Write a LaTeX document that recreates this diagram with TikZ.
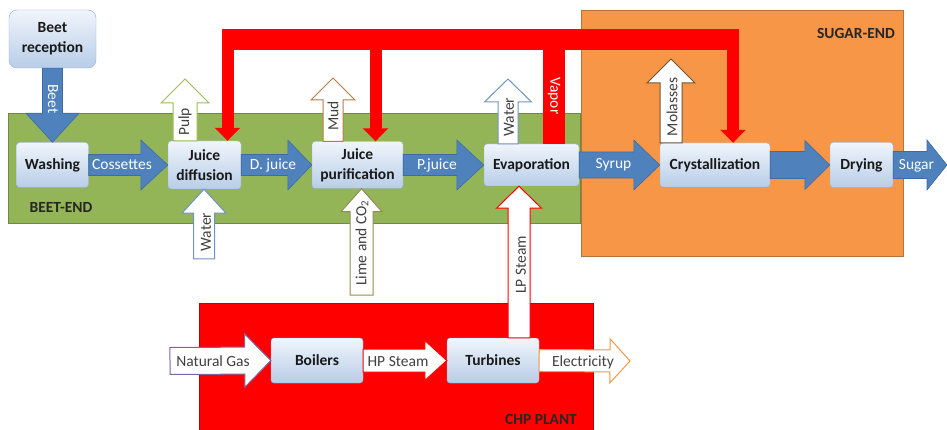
\documentclass[tikz,border=0pt]{standalone}
\usepackage{fontspec}
\setmainfont{Carlito}
\usetikzlibrary{calc,arrows.meta}

\definecolor{beetgreen}{HTML}{93B558}
\definecolor{beetedge}{HTML}{6F8C3E}
\definecolor{sugarorange}{HTML}{F79646}
\definecolor{sugaredge}{HTML}{B9713A}
\definecolor{chpred}{HTML}{FF0000}
\definecolor{chpedge}{HTML}{C00000}
\definecolor{flowblue}{HTML}{4F81BD}
\definecolor{flowedge}{HTML}{3D6CA3}
\definecolor{boxtop}{HTML}{F0F5FB}
\definecolor{boxbot}{HTML}{B8CDE8}
\definecolor{boxedge}{HTML}{8FAFD9}
\definecolor{pulpedge}{HTML}{9BBB59}
\definecolor{wateredge}{HTML}{6F93C6}
\definecolor{mudedge}{HTML}{B97A4A}
\definecolor{limeedge}{HTML}{948A54}
\definecolor{moledge}{HTML}{6B5535}
\definecolor{gasedge}{HTML}{8064A2}

\newcommand{\fatarrow}[6]{%
  \coordinate (fa-s) at (#2);
  \coordinate (fa-t) at (#3);
  \coordinate (fa-h) at ($(fa-t)!#6!(fa-s)$);
  \filldraw[#1] ($(fa-s)!#4!90:(fa-t)$) -- ($(fa-h)!#4!90:(fa-t)$)
    -- ($(fa-h)!#5!90:(fa-t)$) -- (fa-t) -- ($(fa-h)!#5!-90:(fa-t)$)
    -- ($(fa-h)!#4!-90:(fa-t)$) -- ($(fa-s)!#4!-90:(fa-t)$) -- cycle;
}

\begin{document}
\begin{tikzpicture}[x=1pt,y=-1pt,
  font=\fontsize{15.5}{20}\selectfont,
  unit/.style={draw=boxedge,top color=boxtop,bottom color=boxbot,rounded corners=3pt,
    font=\fontsize{15.5}{20}\selectfont\bfseries,text=black!90,align=center,inner sep=0pt},
  flow/.style={fill=flowblue,draw=flowedge,line width=0.6pt},
  feed/.style={fill=white,draw=#1,line width=1pt},
  flowlab/.style={text=white,inner sep=0pt},
  feedlab/.style={text=black!75,inner sep=0pt},
  vapor/.style={draw=chpred,line width=12pt,-{Triangle[width=25pt,length=13pt]}},
  area/.style={font=\fontsize{15.5}{20}\selectfont\bfseries,text=black!85,inner sep=0pt}]
  \useasboundingbox (0,0) rectangle (947,430);
  \draw[draw=beetedge,fill=beetgreen] (8,113) rectangle (580,223);
  \draw[draw=sugaredge,fill=sugarorange] (581,10) rectangle (903,256);
  \draw[draw=chpedge,fill=chpred] (199,303) rectangle (593,432);
  \node[area] (beetend) at (61,207) {BEET-END};
  \node[area] (sugarend) at (856,33) {SUGAR-END};
  \node[area] (chpplant) at (541,419) {CHP PLANT};

  \node[unit,minimum width=87pt,minimum height=58pt,rounded corners=8pt] (beet) at (52.5,39) {Beet\\reception};
  \node[unit,minimum width=72pt,minimum height=45pt] (wash) at (52.5,165) {Washing};
  \node[unit,minimum width=73pt,minimum height=48pt] (diff) at (204.5,165) {Juice\\diffusion};
  \node[unit,minimum width=91pt,minimum height=47pt] (pur) at (357.5,165) {Juice\\purification};
  \node[unit,minimum width=95pt,minimum height=42pt] (evap) at (531.5,165) {Evaporation};
  \node[unit,minimum width=110pt,minimum height=44pt] (cryst) at (715,165) {Crystallization};
  \node[unit,minimum width=63pt,minimum height=45pt] (dry) at (861.5,165) {Drying};
  \node[unit,minimum width=92pt,minimum height=45pt] (boil) at (317,360.5) {Boilers};
  \node[unit,minimum width=92pt,minimum height=45pt] (turb) at (493,360.5) {Turbines};

  \coordinate (r1) at (227.5,40);
  \coordinate (r2) at (375.5,40);
  \coordinate (r3) at (733,40);
  \coordinate (vap) at (554,40);
  \draw[vapor] (r1) -- (r1 |- diff.north);
  \draw[vapor] (r2) -- (r2 |- pur.north);
  \draw[vapor] (r3) -- (r3 |- cryst.north);
  \draw[draw=chpred,line width=22pt] (vap |- evap.north) -- (vap);
  \fill[chpred] (221.5,29) rectangle (739,50);

  \coordinate (sugar) at (947,165);
  \coordinate (pulp) at (185,79);
  \coordinate (wat1) at (204,259);
  \coordinate (mud) at (333,78);
  \coordinate (lime) at (361.5,295);
  \coordinate (wat2) at (508,79);
  \coordinate (mol) at (671,59);
  \coordinate (lp) at (519,338);
  \coordinate (gas) at (170,361);
  \coordinate (elec) at (630,361);

  \fatarrow{flow}{beet.south}{wash.north}{10pt}{26.5pt}{29pt}
  \fatarrow{flow}{wash.east}{diff.west}{10.5pt}{25pt}{27pt}
  \fatarrow{flow}{diff.east}{pur.west}{10.5pt}{25pt}{24pt}
  \fatarrow{flow}{pur.east}{evap.west}{10.5pt}{25pt}{27pt}
  \fatarrow{flow}{evap.east}{cryst.west}{13pt}{25pt}{26pt}
  \fatarrow{flow}{cryst.east}{dry.west}{13.5pt}{24.5pt}{25pt}
  \fatarrow{flow}{dry.east}{sugar}{13.5pt}{25pt}{20pt}
  \fatarrow{feed=pulpedge}{pulp |- diff.north}{pulp}{12pt}{24pt}{24pt}
  \fatarrow{feed=wateredge}{wat1}{wat1 |- diff.south}{10.5pt}{22pt}{24pt}
  \fatarrow{feed=mudedge}{mud |- pur.north}{mud}{10pt}{22pt}{22pt}
  \fatarrow{feed=limeedge}{lime}{lime |- pur.south}{11.5pt}{20.5pt}{23pt}
  \fatarrow{feed=wateredge}{wat2 |- evap.north}{wat2}{10pt}{23.5pt}{23pt}
  \fatarrow{feed=moledge}{mol |- cryst.north}{mol}{11pt}{24pt}{24pt}
  \fatarrow{feed=chpred}{lp |- turb.north}{lp |- evap.south}{11pt}{22.5pt}{22pt}
  \fatarrow{feed=gasedge}{gas}{boil.west}{13.5pt}{26.5pt}{26pt}
  \fatarrow{feed=chpred}{boil.east}{turb.west}{11.5pt}{20pt}{22pt}
  \fatarrow{feed=sugarorange}{turb.east}{elec}{11pt}{22pt}{20pt}

  \node[flowlab,rotate=-90] (lbeet) at (53,99) {Beet};
  \node[flowlab] (lcos) at (122,165) {Cossettes};
  \node[flowlab] (ldj) at (273,165) {D. juice};
  \node[flowlab] (lpj) at (437,165) {P.juice};
  \node[flowlab] (lsyr) at (613.5,165) {Syrup};
  \node[flowlab] (lsug) at (916.5,166) {Sugar};
  \node[flowlab,rotate=-90] (lvap) at (554,96) {Vapor};
  \node[feedlab,rotate=90] (lpulp) at (185,122) {Pulp};
  \node[feedlab,rotate=90] (lwat1) at (206,232) {Water};
  \node[feedlab,rotate=90] (lmud) at (333,116) {Mud};
  \node[feedlab,rotate=90] (llime) at (362,243) {Lime and CO\textsubscript{2}};
  \node[feedlab,rotate=90] (lwat2) at (509,117) {Water};
  \node[feedlab,rotate=90] (llp) at (521,265) {LP Steam};
  \node[feedlab,rotate=90] (lmol) at (672,107) {Molasses};
  \node[feedlab] (lgas) at (213,361) {Natural Gas};
  \node[feedlab] (lhp) at (398,362) {HP Steam};
  \node[feedlab] (lel) at (583,362) {Electricity};
\end{tikzpicture}
\end{document}
